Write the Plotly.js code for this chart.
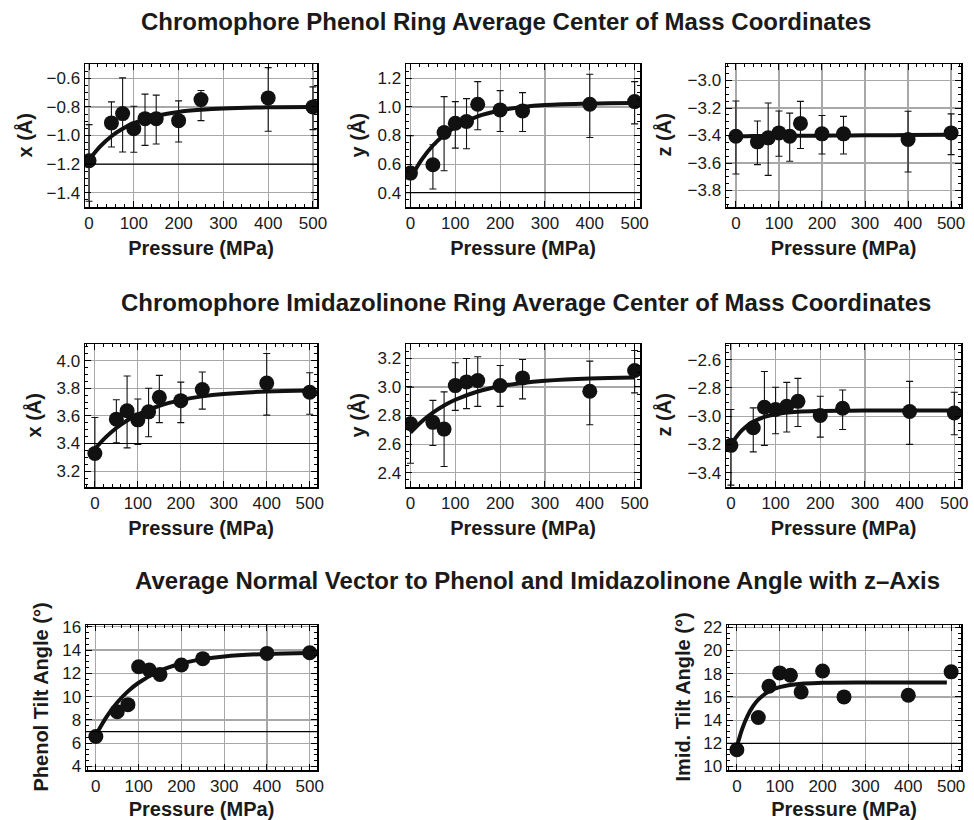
<!DOCTYPE html>
<html>
<head>
<meta charset="utf-8">
<script src="https://cdn.plot.ly/plotly-3.0.1.min.js"></script>
<style>html,body{margin:0;padding:0;background:#fff;}#chart{width:974px;height:820px;}</style>
</head>
<body>
<div id="chart"></div>
<script>
// ---------- data ----------
const pressure = [0, 50, 75, 100, 125, 150, 200, 250, 400, 500];
const fitX = [0, 25, 50, 75, 100, 150, 200, 250, 300, 400, 500];
const fitX8 = [0, 12.5, 25, 37.5, 50, 75, 100, 150, 200, 300, 400, 490];

// Phenol ring center of mass
const phenolX    = [-1.177, -0.912, -0.847, -0.952, -0.882, -0.882, -0.896, -0.749, -0.737, -0.800];
const phenolXTop = [-0.924, -0.765, -0.597, -0.795, -0.711, -0.718, -0.758, -0.685, -0.525, -0.660];
const phenolXBot = [-1.460, -1.080, -1.115, -1.117, -1.069, -1.059, -1.045, -0.896, -0.970, -0.959];
const phenolXFit = [-1.170, -1.076, -1.005, -0.953, -0.914, -0.863, -0.835, -0.820, -0.811, -0.803, -0.801];

const phenolY    = [0.537, 0.595, 0.821, 0.886, 0.898, 1.019, 0.979, 0.972, 1.019, 1.037];
const phenolYTop = [0.798, 0.735, 1.072, 1.037, 1.058, 1.177, 1.114, 1.100, 1.228, 1.177];
const phenolYBot = [0.280, 0.426, 0.553, 0.712, 0.707, 0.840, 0.828, 0.828, 0.786, 0.881];
const phenolYFit = [0.500, 0.631, 0.730, 0.804, 0.860, 0.934, 0.975, 0.999, 1.013, 1.024, 1.028];

const phenolZ    = [-3.405, -3.446, -3.417, -3.381, -3.405, -3.312, -3.388, -3.388, -3.429, -3.381];
const phenolZTop = [-3.149, -3.295, -3.164, -3.222, -3.237, -3.152, -3.254, -3.261, -3.224, -3.243];
const phenolZBot = [-3.680, -3.612, -3.690, -3.551, -3.587, -3.495, -3.534, -3.534, -3.665, -3.539];
const phenolZFit = [-3.405, -3.405, -3.404, -3.404, -3.403, -3.402, -3.401, -3.400, -3.399, -3.397, -3.395];

// Imidazolinone ring center of mass
const imidX    = [3.327, 3.576, 3.637, 3.571, 3.629, 3.734, 3.710, 3.790, 3.837, 3.771];
const imidXTop = [3.588, 3.717, 3.888, 3.722, 3.800, 3.893, 3.844, 3.917, 4.051, 3.912];
const imidXBot = [3.066, 3.405, 3.368, 3.393, 3.449, 3.551, 3.551, 3.649, 3.605, 3.612];
const imidXFit = [3.360, 3.444, 3.512, 3.566, 3.610, 3.673, 3.714, 3.741, 3.758, 3.777, 3.784];

const imidY    = [2.742, 2.752, 2.705, 3.009, 3.035, 3.044, 3.009, 3.063, 2.970, 3.115];
const imidYTop = [2.998, 2.906, 2.965, 3.169, 3.199, 3.211, 3.150, 3.192, 3.180, 3.255];
const imidYBot = [2.466, 2.590, 2.443, 2.836, 2.848, 2.864, 2.864, 2.916, 2.735, 2.958];
const imidYFit = [2.680, 2.758, 2.820, 2.870, 2.910, 2.968, 3.004, 3.028, 3.043, 3.059, 3.065];

const imidZ    = [-3.206, -3.082, -2.937, -2.953, -2.930, -2.895, -2.995, -2.944, -2.967, -2.977];
const imidZTop = [-2.953, -2.941, -2.684, -2.796, -2.761, -2.733, -2.859, -2.815, -2.754, -2.831];
const imidZBot = [-3.487, -3.252, -3.206, -3.124, -3.112, -3.073, -3.148, -3.094, -3.199, -3.131];
const imidZFit = [-3.200, -3.098, -3.039, -3.005, -2.986, -2.969, -2.963, -2.961, -2.960, -2.960, -2.960];

// Tilt angles
const phenolTilt    = [6.57, 8.71, 9.31, 12.57, 12.29, 11.91, 12.71, 13.26, 13.71, 13.77];
const phenolTiltFit = [6.70, 8.27, 9.49, 10.45, 11.19, 12.22, 12.84, 13.22, 13.45, 13.67, 13.75];
const imidTilt      = [11.45, 14.22, 16.92, 18.07, 17.87, 16.43, 18.24, 16.00, 16.14, 18.16];
const imidTiltFit   = [11.70, 13.25, 14.37, 15.18, 15.76, 16.48, 16.85, 17.14, 17.22, 17.25, 17.25, 17.25];

// Reference (initial) lines
const baselines = {1: -1.2, 2: 0.4, 4: 3.4, 7: 7, 8: 12};

// Axis labels
const xTitle = 'Pressure (MPa)';
const yTitles = ['x (Å)', 'y (Å)', 'z (Å)', 'x (Å)', 'y (Å)', 'z (Å)', 'Phenol Tilt Angle (°)', 'Imid. Tilt Angle (°)'];
const sectionTitles = [
  'Chromophore Phenol Ring Average Center of Mass Coordinates',
  'Chromophore Imidazolinone Ring Average Center of Mass Coordinates',
  'Average Normal Vector to Phenol and Imidazolinone Angle with z–Axis'
];

// ---------- layout helpers ----------
const W = 974, H = 820;
const FONT = 'Liberation Sans, Arial, Helvetica, sans-serif';
const panels = [
  {px: [85, 317],  py: [64, 207],  xr: [-9, 509],  yr: [-1.5, -0.5],  y0: -1.4, dy: 0.2, dmin: 0.05, fmt: '.1f', tx: 24},
  {px: [406, 640], py: [64, 207],  xr: [-10, 512], yr: [0.3, 1.3],    y0: 0.4,  dy: 0.2, dmin: 0.05, fmt: '.1f', tx: 357},
  {px: [726, 961], py: [64, 207],  xr: [-23, 523], yr: [-3.92, -2.88], y0: -3.8, dy: 0.2, dmin: 0.05, fmt: '.1f', tx: 663},
  {px: [85, 317],  py: [344, 487], xr: [-23, 517], yr: [3.085, 4.12], y0: 3.2,  dy: 0.2, dmin: 0.05, fmt: '.1f', tx: 33},
  {px: [406, 640], py: [344, 487], xr: [-10, 512], yr: [2.3, 3.3],    y0: 2.4,  dy: 0.2, dmin: 0.05, fmt: '.1f', tx: 357},
  {px: [726, 961], py: [344, 487], xr: [-11, 515], yr: [-3.5, -2.49], y0: -3.4, dy: 0.2, dmin: 0.05, fmt: '.1f', tx: 663},
  {px: [86, 317],  py: [625, 770], xr: [-23, 517], yr: [3.7, 16.15],  y0: 4,    dy: 2,   dmin: 0.5,  fmt: 'd',   tx: 40},
  {px: [727, 961], py: [625, 770], xr: [-23, 523], yr: [9.7, 22.2],   y0: 10,   dy: 2,   dmin: 0.5,  fmt: 'd',   tx: 682}
];

const series = [
  {y: phenolX, top: phenolXTop, bot: phenolXBot, fx: fitX, fy: phenolXFit},
  {y: phenolY, top: phenolYTop, bot: phenolYBot, fx: fitX, fy: phenolYFit},
  {y: phenolZ, top: phenolZTop, bot: phenolZBot, fx: fitX, fy: phenolZFit},
  {y: imidX, top: imidXTop, bot: imidXBot, fx: fitX, fy: imidXFit},
  {y: imidY, top: imidYTop, bot: imidYBot, fx: fitX, fy: imidYFit},
  {y: imidZ, top: imidZTop, bot: imidZBot, fx: fitX, fy: imidZFit},
  {y: phenolTilt, fx: fitX, fy: phenolTiltFit},
  {y: imidTilt, fx: fitX8, fy: imidTiltFit}
];

const layout = {
  width: W, height: H, autosize: false,
  margin: {l: 0, r: 0, t: 0, b: 0},
  paper_bgcolor: '#fff', plot_bgcolor: '#fff',
  showlegend: false,
  font: {family: FONT, color: '#1a1a1a', size: 17},
  shapes: [], annotations: []
};
const traces = [];

panels.forEach((p, i) => {
  const n = i + 1;
  const xa = 'xaxis' + (n === 1 ? '' : n), ya = 'yaxis' + (n === 1 ? '' : n);
  const xr = 'x' + (n === 1 ? '' : n), yr = 'y' + (n === 1 ? '' : n);
  const common = {
    showline: true, linecolor: '#000', linewidth: 1.5, mirror: 'allticks',
    ticks: 'inside', ticklen: 6, tickcolor: '#000', tickwidth: 1,
    showgrid: true, gridcolor: '#a8a8a8', gridwidth: 1.2, zeroline: false,
    tickfont: {family: FONT, size: 17, color: '#1a1a1a'},
    minor: {ticks: 'inside', ticklen: 3, tickcolor: '#000', tickwidth: 1, showgrid: false}
  };
  layout[xa] = Object.assign({}, common, {
    domain: [p.px[0] / W, p.px[1] / W], anchor: yr, range: p.xr,
    tickmode: 'linear', tick0: 0, dtick: 100,
    minor: Object.assign({}, common.minor, {dtick: 20}),
    title: {text: '<b>' + xTitle + '</b>', font: {family: FONT, size: 20, color: '#1a1a1a'}, standoff: 9}
  });
  layout[ya] = Object.assign({}, common, {
    domain: [1 - p.py[1] / H, 1 - p.py[0] / H], anchor: xr, range: p.yr,
    tickmode: 'linear', tick0: p.y0, dtick: p.dy, tickformat: p.fmt,
    minor: Object.assign({}, common.minor, {dtick: p.dmin})
  });
  layout.annotations.push({text: '<b>' + yTitles[i] + '</b>', xref: 'paper', yref: 'paper',
    x: p.tx / W, y: 1 - (p.py[0] + p.py[1]) / 2 / H, xanchor: 'center', yanchor: 'middle',
    textangle: -90, showarrow: false, font: {family: FONT, size: 20, color: '#1a1a1a'}});
  if (baselines[n] !== undefined) {
    layout.shapes.push({type: 'line', xref: xr + ' domain', x0: 0, x1: 1, yref: yr,
      y0: baselines[n], y1: baselines[n], line: {color: '#000', width: 1.2}, layer: 'above'});
  }
  const s = series[i];
  traces.push({x: s.fx, y: s.fy, xaxis: xr, yaxis: yr, type: 'scatter', mode: 'lines',
    line: {color: '#111', width: 4, shape: 'spline'}, hoverinfo: 'skip', cliponaxis: true});
  const pt = {x: pressure, y: s.y, xaxis: xr, yaxis: yr, type: 'scatter', mode: 'markers',
    marker: {color: '#111', size: 15}, cliponaxis: true};
  if (s.top) {
    pt.error_y = {type: 'data', symmetric: false,
      array: s.top.map((v, k) => v - s.y[k]),
      arrayminus: s.bot.map((v, k) => s.y[k] - v),
      color: '#111', thickness: 1.1, width: 3.5};
  }
  traces.push(pt);
});

const titleCenters = [[506, 21], [526, 302], [537, 580]];
sectionTitles.forEach((t, k) => {
  layout.annotations.push({text: '<b>' + t + '</b>', xref: 'paper', yref: 'paper',
    x: titleCenters[k][0] / W, y: 1 - titleCenters[k][1] / H, xanchor: 'center', yanchor: 'middle',
    showarrow: false, font: {family: FONT, size: 24, color: '#1a1a1a'}});
});

Plotly.newPlot('chart', traces, layout, {staticPlot: true, displayModeBar: false});
</script>
</body>
</html>
